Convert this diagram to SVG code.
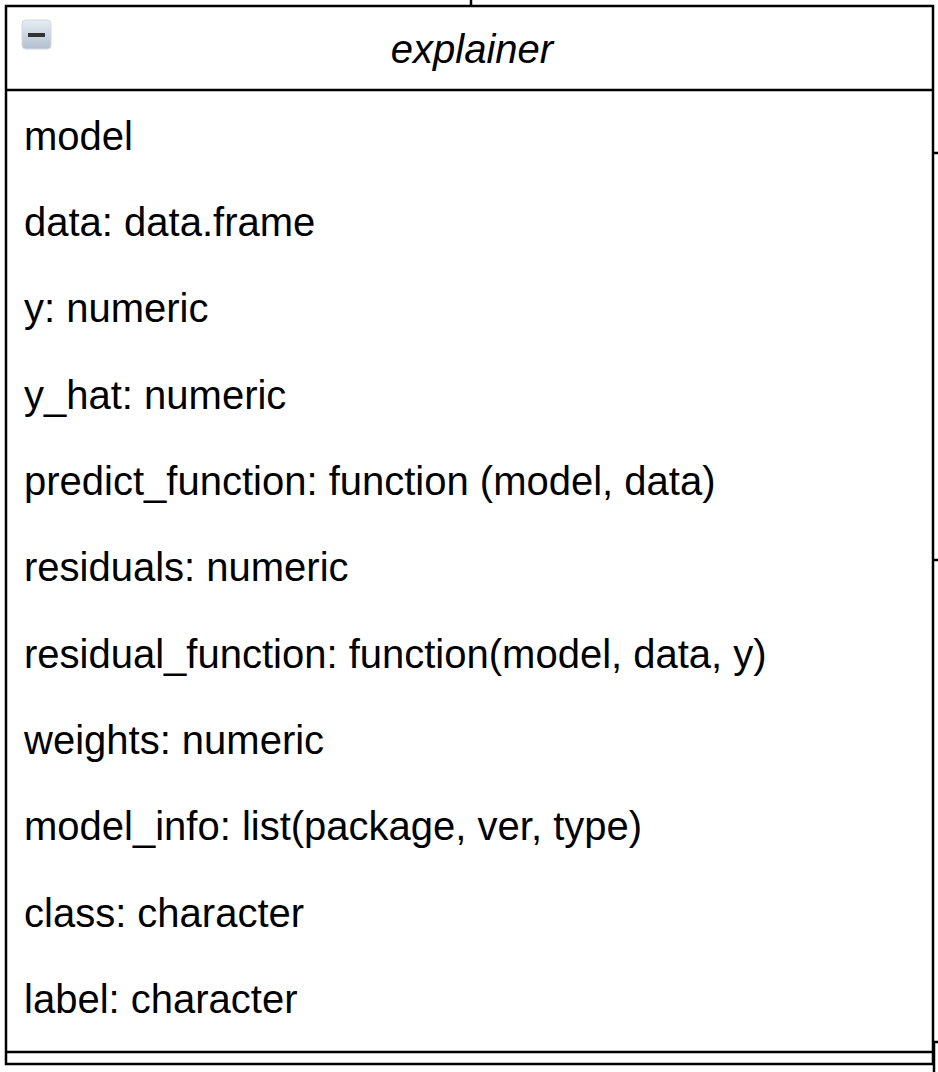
<svg xmlns="http://www.w3.org/2000/svg" width="938" height="1072" viewBox="0 0 938 1072">
<defs>
<linearGradient id="ig" x1="0" y1="0" x2="0" y2="1">
<stop offset="0" stop-color="#e6ecf3"/>
<stop offset="1" stop-color="#b3c0d1"/>
</linearGradient>
</defs>
<style>
.b{fill:#fff;stroke:#000;stroke-width:2.5}
.ln{stroke:#000;stroke-width:2.5;fill:none}
.t{font-family:"Liberation Sans",Arial,sans-serif;font-size:40px;fill:#000}
.h{font-style:italic;text-anchor:middle}
</style>
<rect width="938" height="1072" fill="#fff"/>
<g id="connectors">
<line class="ln" x1="471" y1="0" x2="471" y2="6"/>
<line class="ln" x1="933" y1="153" x2="938" y2="153"/>
<line class="ln" x1="933" y1="560" x2="938" y2="560"/>
<line class="ln" x1="933" y1="1042" x2="938" y2="1042"/>
<line class="ln" x1="934" y1="1042" x2="934" y2="1072"/>
</g>
<g id="explainer">
<rect class="b" x="6" y="6" width="927" height="1058"/>
<line class="ln" x1="6" y1="90" x2="933" y2="90"/>
<line class="ln" x1="6" y1="1052" x2="933" y2="1052"/>
<rect x="22" y="20" width="29" height="29" rx="4" fill="url(#ig)" stroke="#d0d8e2" stroke-width="1"/>
<rect x="28" y="33" width="17" height="4" fill="#333"/>
<text class="t h" x="472" y="63">explainer</text>
<text class="t" x="24" y="150">model</text>
<text class="t" x="24" y="236">data: data.frame</text>
<text class="t" x="24" y="322">y: numeric</text>
<text class="t" x="24" y="409">y_hat: numeric</text>
<text class="t" x="24" y="495">predict_function: function (model, data)</text>
<text class="t" x="24" y="581">residuals: numeric</text>
<text class="t" x="24" y="668">residual_function: function(model, data, y)</text>
<text class="t" x="24" y="754">weights: numeric</text>
<text class="t" x="24" y="840">model_info: list(package, ver, type)</text>
<text class="t" x="24" y="927">class: character</text>
<text class="t" x="24" y="1013">label: character</text>
</g>
</svg>
